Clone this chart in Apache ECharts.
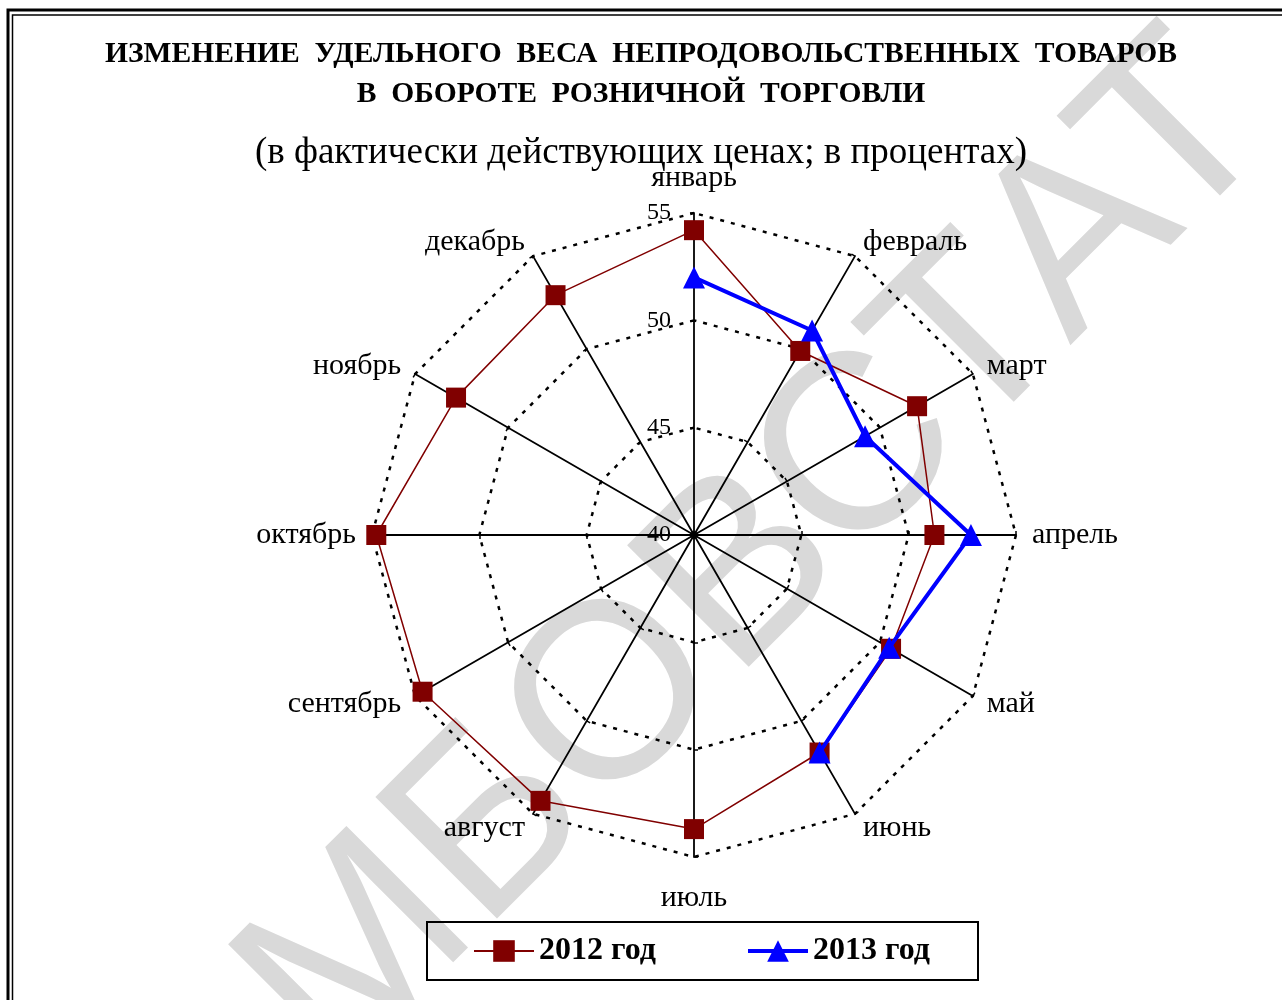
<!DOCTYPE html>
<html>
<head>
<meta charset="utf-8">
<title>Удельный вес непродовольственных товаров</title>
<script src="https://cdn.jsdelivr.net/npm/echarts@6/dist/echarts.min.js"></script>
<style>
  html, body { margin: 0; padding: 0; background: #fff; }
  #chart { width: 1282px; height: 1000px; }
</style>
</head>
<body>
<div id="chart"></div>
<script>
// данные
var months = ['январь', 'февраль', 'март', 'апрель', 'май', 'июнь',
              'июль', 'август', 'сентябрь', 'октябрь', 'ноябрь', 'декабрь'];
var values2012 = [54.2, 49.9, 52.0, 51.2, 50.6, 51.7, 53.7, 54.3, 54.6, 54.8, 52.8, 52.9];
var values2013 = [52.0, 51.0, 49.2, 52.9, 50.5, 51.7];
var seriesNames = ['2012 год', '2013 год'];
var axisMin = 40;
var axisMax = 55;

var serif = 'Liberation Serif';
var cx = 694, cy = 535, rad = 322;
var step = 360 / months.length;

// радар в echarts идёт против часовой стрелки, поэтому порядок обратный
var radarOrder = [0];
for (var k = months.length - 1; k > 0; k--) radarOrder.push(k);

var indicators = radarOrder.map(function (i) {
    var ind = { name: months[i], min: axisMin, max: axisMax };
    if (i === 0) {
        ind.nameGap = 20;
        ind.axisLabel = {
            show: true,
            color: '#000',
            fontFamily: serif,
            fontSize: 24,
            margin: 23
        };
    }
    if (i === 6) ind.nameGap = 26;
    return ind;
});

function toPolar(vals, closed) {
    var pts = vals.map(function (v, i) { return [v, i * step]; });
    if (closed) pts.push({ value: [vals[0], 360], symbol: 'none' });
    return pts;
}

var chart = echarts.init(document.getElementById('chart'));

var option = {
    backgroundColor: '#fff',
    animation: false,
    title: {
        text: 'ИЗМЕНЕНИЕ  УДЕЛЬНОГО  ВЕСА  НЕПРОДОВОЛЬСТВЕННЫХ  ТОВАРОВ\nВ  ОБОРОТЕ  РОЗНИЧНОЙ  ТОРГОВЛИ',
        subtext: '(в фактически действующих ценах; в процентах)',
        left: 'center',
        top: 34,
        padding: [0, 0, 0, 20],
        itemGap: 21,
        textStyle: {
            fontFamily: serif,
            fontWeight: 'bold',
            fontSize: 29.6,
            lineHeight: 40,
            color: '#000'
        },
        subtextStyle: {
            fontFamily: serif,
            fontSize: 37,
            color: '#000'
        }
    },
    legend: {
        data: [
            { name: seriesNames[0], lineStyle: { width: 2 } },
            { name: seriesNames[1], lineStyle: { width: 4 } }
        ],
        left: 427,
        top: 922,
        orient: 'horizontal',
        padding: [13, 48, 13, 46],
        itemGap: 90,
        itemWidth: 60,
        itemHeight: 27,
        borderColor: '#000',
        borderWidth: 2,
        textStyle: {
            fontFamily: serif,
            fontWeight: 'bold',
            fontSize: 32,
            color: '#000'
        }
    },
    radar: {
        center: [cx, cy],
        radius: rad,
        startAngle: 90,
        shape: 'polygon',
        splitNumber: 3,
        indicator: indicators,
        nameGap: 16,
        axisName: {
            color: '#000',
            fontFamily: serif,
            fontSize: 30
        },
        axisLine: { lineStyle: { color: '#000', width: 1.8 } },
        axisTick: { show: true, length: 4, lineStyle: { color: '#000', width: 1.5 } },
        axisLabel: { show: false },
        splitLine: { lineStyle: { color: '#000', width: 2.5, type: [4, 7] } },
        splitArea: { show: false }
    },
    polar: {
        center: [cx, cy],
        radius: rad
    },
    angleAxis: {
        type: 'value',
        min: 0,
        max: 360,
        startAngle: 90,
        clockwise: true,
        show: false
    },
    radiusAxis: {
        type: 'value',
        min: axisMin,
        max: axisMax,
        show: false
    },
    graphic: [
        {
            type: 'text',
            z: -10,
            x: 650,
            y: 668,
            rotation: Math.PI / 4,
            silent: true,
            style: {
                text: 'ТАМБОВСТАТ',
                fill: '#d9d9d9',
                font: '250px "Liberation Sans"',
                textAlign: 'center',
                textVerticalAlign: 'middle'
            }
        },
        {
            type: 'rect',
            z: 100,
            silent: true,
            shape: { x: 8, y: 10, width: 1300, height: 1020 },
            style: { fill: 'none', stroke: '#000', lineWidth: 3 }
        },
        {
            type: 'rect',
            z: 100,
            silent: true,
            shape: { x: 12.5, y: 15, width: 1300, height: 1020 },
            style: { fill: 'none', stroke: '#000', lineWidth: 1.5 }
        }
    ],
    series: [
        {
            name: seriesNames[0],
            type: 'line',
            coordinateSystem: 'polar',
            data: toPolar(values2012, true),
            symbol: 'rect',
            symbolSize: 20,
            z: 3,
            lineStyle: { color: '#800000', width: 1.5 },
            itemStyle: { color: '#800000' }
        },
        {
            name: seriesNames[1],
            type: 'line',
            coordinateSystem: 'polar',
            data: toPolar(values2013, false),
            symbol: 'triangle',
            symbolSize: 22,
            z: 4,
            lineStyle: { color: '#0000ff', width: 4 },
            itemStyle: { color: '#0000ff' }
        }
    ]
};

chart.setOption(option);
</script>
</body>
</html>
